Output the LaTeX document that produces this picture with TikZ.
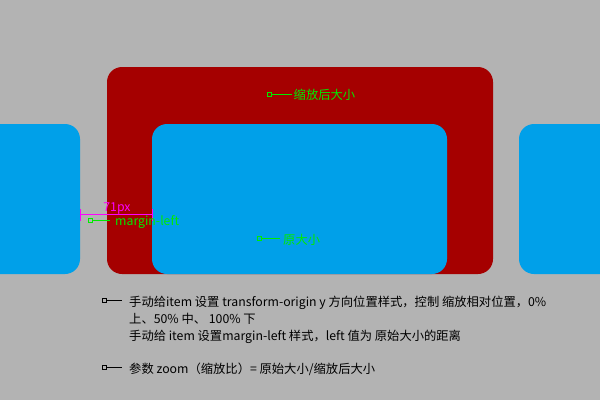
\documentclass[tikz,border=0pt]{standalone}
\usepackage{fontspec}
\setmainfont{Noto Sans CJK SC}
\definecolor{bggray}{RGB}{179,179,179}
\definecolor{itemblue}{RGB}{0,160,233}
\definecolor{scalered}{RGB}{165,0,0}
\definecolor{mkgreen}{RGB}{0,235,0}
\definecolor{mkmag}{RGB}{255,0,255}
\begin{document}
\begin{tikzpicture}[x=1pt,y=-1pt,
  box/.style={rounded corners=15pt},
  sq/.style={draw, minimum size=4pt, inner sep=0pt, line width=0.8pt},
  lbl/.style={inner sep=0pt, font=\fontsize{12.3}{14}\selectfont},
  note/.style={lbl, anchor=base west, text=black},
  mline/.style={line width=0.9pt},
]
\useasboundingbox (0,0) rectangle (600,400);
\clip (0,0) rectangle (600,400);
\fill[bggray] (0,0) rectangle (600,400);
% shapes
\fill[itemblue, box] (-30,124) rectangle (80,274);
\fill[scalered, box] (107,67) rectangle (493,274);
\fill[itemblue, box] (152,124) rectangle (447,274);
\fill[itemblue, box] (519,124) rectangle (630,274);
% 71px dimension
\coordinate (dL) at (80.5,214.5);
\coordinate (dR) at (152,214.5);
\draw[mkmag, mline] (dL) -- (dR);
\draw[mkmag, mline] (80.5,209) -- (80.5,221);
\draw[mkmag, mline] (152,209) -- (152,221);
\node[lbl, anchor=base, text=mkmag] (px) at (117,211.5) {71px};
% margin-left marker
\node[sq, draw=mkgreen] (s1) at (90.5,220.5) {};
\node[lbl, anchor=base west, text=mkgreen] (t1) at (115,225.5) {margin-left};
\coordinate (e1) at (110,220.5);
\draw[mkgreen, mline] (s1) -- (e1);
% scaled size marker
\node[sq, draw=mkgreen] (s2) at (269,94) {};
\node[lbl, anchor=west, text=mkgreen] (t2) at (293.5,95) {缩放后大小};
\coordinate (e2) at (291.5,94);
\draw[mkgreen, mline] (s2) -- (e2);
% original size marker
\node[sq, draw=mkgreen] (s3) at (259.5,238.5) {};
\node[lbl, anchor=west, text=mkgreen] (t3) at (283,240) {原大小};
\coordinate (e3) at (280,238.5);
\draw[mkgreen, mline] (s3) -- (e3);
% notes
\node[sq, draw=black] (s4) at (104,300.5) {};
\node[note] (n1) at (129,306) {手动给item 设置 transform-origin y 方向位置样式，控制 缩放相对位置，0\%};
\node[note] (n2) at (129,323) {上、50\% 中、 100\% 下};
\node[note] (n3) at (129,340) {手动给 item 设置margin-left 样式，left 值为 原始大小的距离};
\coordinate (e4) at (122,300.5);
\draw[black, mline] (s4) -- (e4);
\node[sq, draw=black] (s5) at (104,367.5) {};
\node[note] (n4) at (129,373) {参数 zoom（缩放比）= 原始大小/缩放后大小};
\coordinate (e5) at (122,367.5);
\draw[black, mline] (s5) -- (e5);
\end{tikzpicture}
\end{document}
